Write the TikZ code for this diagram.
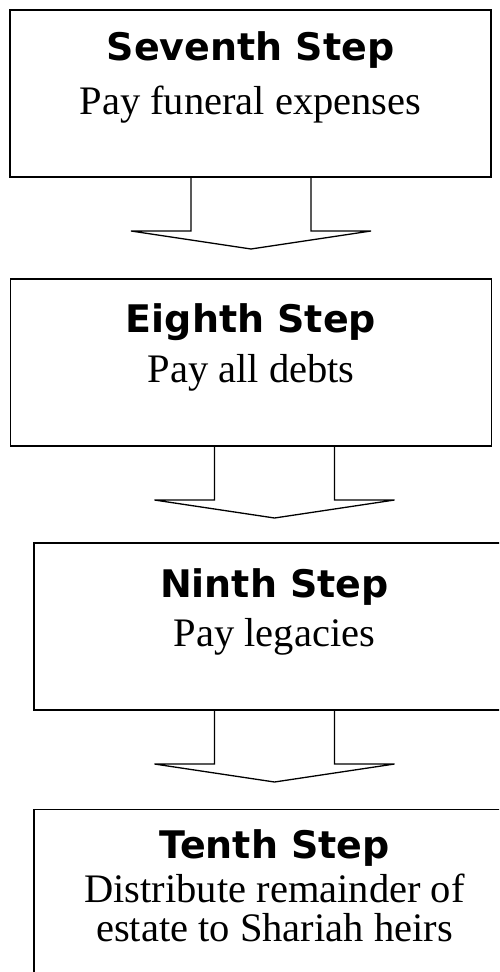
\documentclass[tikz,border=0pt]{standalone}
\usepackage{fontspec}
\setmainfont{Liberation Serif}
\newfontfamily\stepfont{DejaVu Sans Bold}
\usetikzlibrary{calc}

\tikzset{
  stepbox/.style = {draw, line width=1.3pt, minimum width=481pt, minimum height=167pt, inner sep=0pt, outer sep=0pt},
  steptitle/.style = {anchor=base, inner sep=0pt, font=\stepfont\fontsize{38}{38}\selectfont},
  steptext/.style = {anchor=base, inner sep=0pt, font=\fontsize{40.5}{40.5}\selectfont},
  blockarrow/.style = {line width=1.3pt, line join=miter}
}

\begin{document}
\begin{tikzpicture}[x=1pt, y=1pt]
	\useasboundingbox (0,0) rectangle (499,-972);
	\clip (0,0) rectangle (499,-972);

	% the four boxes
	\node[stepbox] (s7) at (250.5,-93.5) {};
	\node[stepbox] (s8) at (251,-362.5) {};
	\node[stepbox] (s9) at (274.5,-626.5) {};
	\node[stepbox] (s10) at (274.5,-893) {};

	% titles
	\node[steptitle] (t7) at ($(s7.north)+(0,-50)$) {Seventh Step};
	\node[steptitle] (t8) at ($(s8.north)+(0,-53)$) {Eighth Step};
	\node[steptitle] (t9) at ($(s9.north)+(0,-54)$) {Ninth Step};
	\node[steptitle] (t10) at ($(s10.north)+(0,-49)$) {Tenth Step};

	% texts
	\node[steptext] (d7) at ($(s7.north)+(0,-104)$) {Pay funeral expenses};
	\node[steptext] (d8) at ($(s8.north)+(0,-103)$) {Pay all debts};
	\node[steptext] (d9) at ($(s9.north)+(0,-103)$) {Pay legacies};
	\node[steptext] (d10) at ($(s10.north)+(0,-93)$) {Distribute remainder of};
	\node[steptext] (e10) at ($(s10.north)+(0,-132)$) {estate to Shariah heirs};

	% block arrows
	\foreach \a/\b in {s7/s8, s8/s9, s9/s10}
	{
		\draw[blockarrow] (\b.center |- \a.south) ++(-60,0) -- ++(0,-54) -- ++(-60,0)
			-- ++(120,-18) -- ++(120,18) -- ++(-60,0) -- ++(0,54);
	}
\end{tikzpicture}
\end{document}
